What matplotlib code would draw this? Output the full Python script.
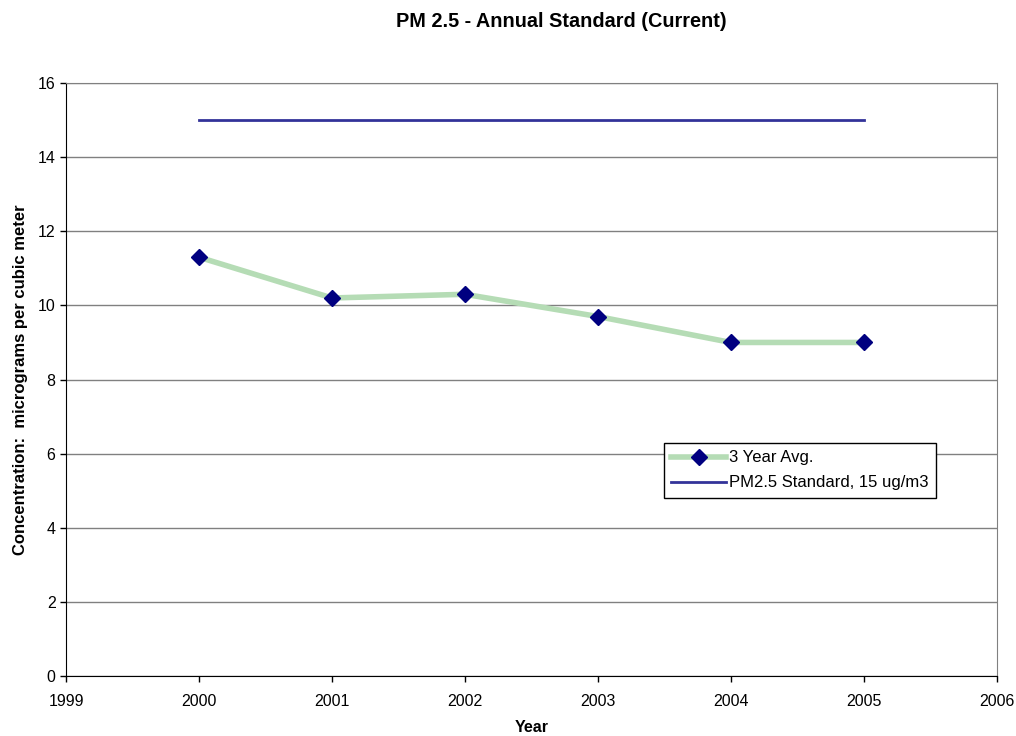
import matplotlib.pyplot as plt

plt.rcParams['font.family'] = ['Liberation Sans', 'DejaVu Sans']

# 3-year average PM2.5 concentration by year
years = [2000, 2001, 2002, 2003, 2004, 2005]
avg_3yr = [11.3, 10.2, 10.3, 9.7, 9.0, 9.0]
standard = [15, 15, 15, 15, 15, 15]

fig = plt.figure(figsize=(10.16, 7.36), dpi=100)
ax = fig.add_axes([0.065, 0.0815, 0.916, 0.8057])

ax.plot(years, avg_3yr, color='#b5dcb5', linewidth=4, marker='D', markersize=8,
        markerfacecolor='#000080', markeredgecolor='#000080', label='3 Year Avg.', zorder=3)
ax.plot(years, standard, color='#333399', linewidth=2, label='PM2.5 Standard, 15 ug/m3', zorder=3)

ax.set_xlim(1999, 2006)
ax.set_ylim(0, 16)
ax.set_xticks(range(1999, 2007))
ax.set_yticks(range(0, 17, 2))
ax.yaxis.grid(True, color='#808080', linewidth=1)
ax.set_axisbelow(True)
ax.tick_params(labelsize=11.5, length=4, width=1, color='black')
ax.tick_params(axis='x', pad=9)

for s in ['top', 'right']:
    ax.spines[s].set_color('#808080')
for s in ['left', 'bottom']:
    ax.spines[s].set_color('black')

# title sits a bit right of the plot centre
fig.text(0.552, 0.971, 'PM 2.5 - Annual Standard (Current)', fontsize=14.3,
         fontweight='bold', ha='center', va='center')
ax.set_xlabel('Year', fontsize=11.5, fontweight='bold', labelpad=8)
ax.set_ylabel('Concentration:  micrograms per cubic meter', fontsize=12, fontweight='bold', labelpad=7)

leg = ax.legend(loc='upper left', bbox_to_anchor=(0.642, 0.393), fontsize=12, frameon=True,
                fancybox=False, edgecolor='black', framealpha=1, borderpad=0.45,
                handlelength=3.3, handletextpad=0.2, borderaxespad=0, labelspacing=0.6)
leg.get_frame().set_linewidth(1)

fig.savefig('out.png', dpi=100)
